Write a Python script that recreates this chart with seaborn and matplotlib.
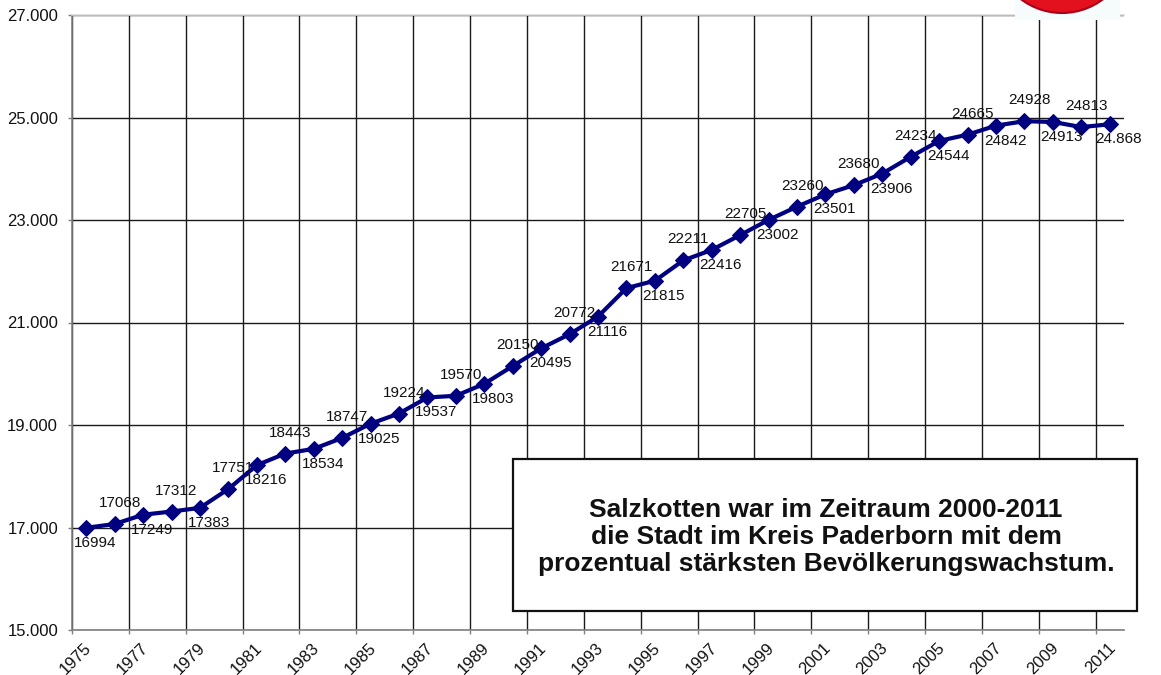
import numpy as np
import pandas as pd
import matplotlib
matplotlib.use("Agg")
import matplotlib.pyplot as plt
import matplotlib.ticker as mticker
from matplotlib.patches import Rectangle, Ellipse
import seaborn as sns

years = list(range(1975, 2012))
population = [16994, 17068, 17249, 17312, 17383, 17751, 18216, 18443, 18534, 18747,
              19025, 19224, 19537, 19570, 19803, 20150, 20495, 20772, 21116, 21671,
              21815, 22211, 22416, 22705, 23002, 23260, 23501, 23680, 23906, 24234,
              24544, 24665, 24842, 24928, 24913, 24813, 24868]
point_labels = [str(v) for v in population[:-1]] + ["24.868"]
year_tick_labels = [str(y) for y in years[::2]]
y_ticks = [15000, 17000, 19000, 21000, 23000, 25000, 27000]
box_text = ("Salzkotten war im Zeitraum 2000-2011\n"
            "die Stadt im Kreis Paderborn mit dem\n"
            "prozentual stärksten Bevölkerungswachstum.")

sns.set_style("white")
plt.rcParams['font.family'] = ['Liberation Sans', 'DejaVu Sans']

W, H = 1161, 675
fig = plt.figure(figsize=(W / 100, H / 100), dpi=100)
ax = fig.add_axes([72 / W, 1 - 630 / H, (1124 - 72) / W, (630 - 15) / H])

df = pd.DataFrame({"pos": np.arange(len(years)), "pop": population})
sns.lineplot(data=df, x="pos", y="pop", ax=ax, color="#000080", linewidth=3.0,
             marker="D", markersize=8.5, markeredgecolor="#000080",
             markerfacecolor="#000080", zorder=3)

ax.set_xlim(-0.5, len(years) - 0.5)
ax.set_ylim(15000, 27000)
ax.set_xlabel("")
ax.set_ylabel("")

ax.set_yticks(y_ticks)
ax.yaxis.set_major_formatter(mticker.FuncFormatter(lambda v, p: f"{v:,.0f}".replace(",", ".")))
xt = np.arange(len(year_tick_labels)) * 2 - 0.5
ax.set_xticks(xt)
ax.set_xticklabels([])
for x, lab in zip(xt, year_tick_labels):
    ax.annotate(lab, (x, 0), xycoords=("data", "axes fraction"),
                xytext=(12 * 0.72, -10 * 0.72), textcoords="offset points",
                rotation=45, rotation_mode="anchor", ha="right", va="top",
                fontsize=12, color="#111111", annotation_clip=False)
ax.tick_params(axis="y", labelsize=12, length=3, width=1, color="#808080",
               direction="out", pad=7, left=True, labelcolor="#111111")
ax.tick_params(axis="x", length=3, width=1, color="#808080", direction="out",
               bottom=True, pad=2)

ax.set_axisbelow(True)
ax.grid(True, color="#1a1a1a", linewidth=1.0)
for s in ["left", "bottom"]:
    ax.spines[s].set_color("#808080")
    ax.spines[s].set_linewidth(1.2)
ax.spines["top"].set_color("#dcdcdc")
ax.spines["top"].set_linewidth(1.2)
ax.spines["right"].set_visible(False)

for i, (v, t) in enumerate(zip(population, point_labels)):
    if i % 2 == 0:
        dx, dy = 9, -15
    else:
        dx, dy = 5, 21
    ax.annotate(t, (i, v), xytext=(dx * 0.72, dy * 0.72), textcoords="offset points",
                ha="center", va="center", fontsize=11, color="#111111", zorder=4)

# text box
fig.patches.append(Rectangle((513 / W, 1 - 611 / H), (1137 - 513) / W, (611 - 459) / H,
                             transform=fig.transFigure, facecolor="white",
                             edgecolor="#111111", linewidth=1.6, zorder=5))
fig.text(826 / W, 1 - 537 / H, box_text, ha="center", va="center", ma="center",
         fontsize=19, fontweight="bold", color="#111111", linespacing=1.17, zorder=6)

# logo fragment
fig.patches.append(Rectangle((1015 / W, 1 - 20 / H), 105 / W, 20 / H,
                             transform=fig.transFigure, facecolor="#f6fbfb",
                             edgecolor="none", zorder=5))
fig.patches.append(Ellipse((1062 / W, 1 + 55 / H), 136 / W, 136 / H,
                           transform=fig.transFigure, facecolor="#e3101e",
                           edgecolor="#a8001a", linewidth=1.5, zorder=6))

fig.savefig("out.png", dpi=100)
